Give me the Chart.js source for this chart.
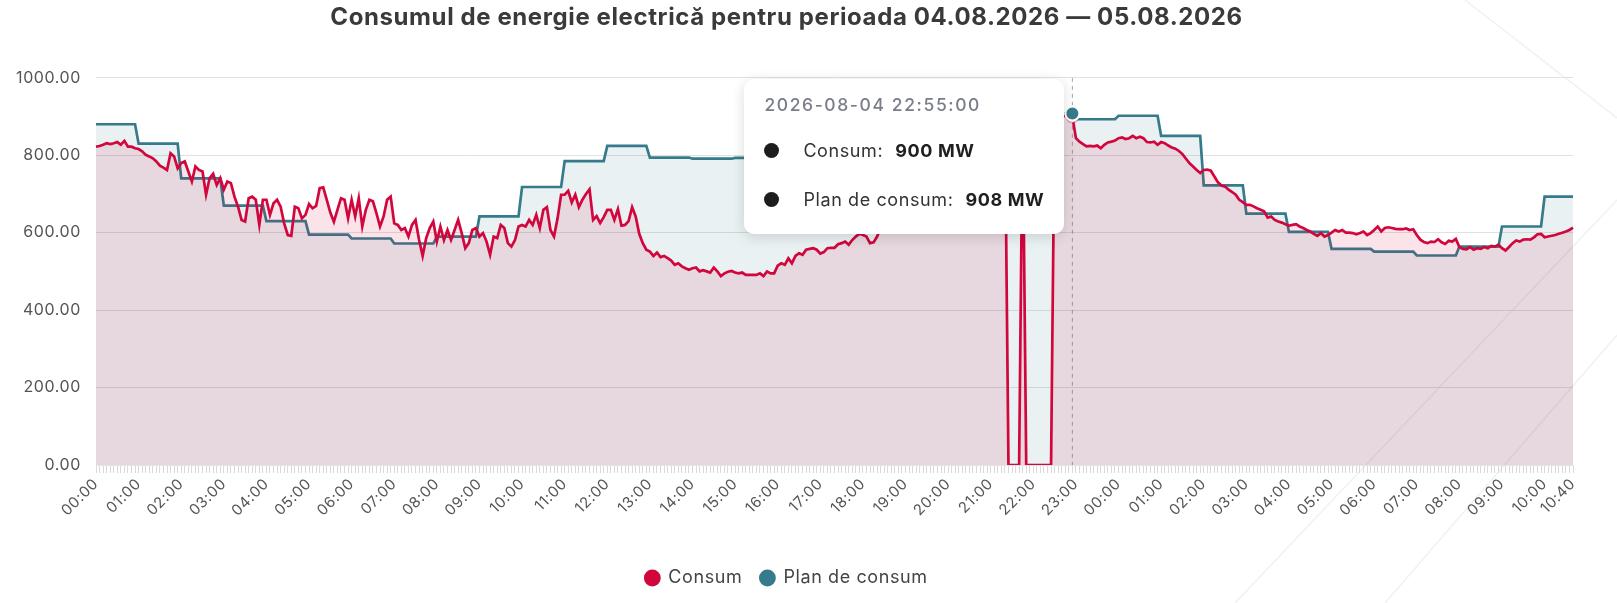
<!DOCTYPE html>
<html lang="ro">
<head>
<meta charset="utf-8">
<title>Consumul de energie electrică</title>
<script src="https://cdn.jsdelivr.net/npm/chart.js@4.4.1/dist/chart.umd.min.js"></script>
<style>
  html, body { margin: 0; padding: 0; overflow: hidden; background: #fff; }
  #wrap { position: relative; width: 1617px; height: 630px; }
  #deco { position: absolute; left: 0; top: 0; }
  #energy-chart { position: relative; }
  .tip { position: absolute; display: none; background: #fff; border-radius: 10px;
         box-shadow: 0 3px 14px rgba(0,0,0,.14); padding: 15px 20px 20px 20px;
         font-family: Inter, 'Noto Sans', sans-serif; white-space: nowrap; pointer-events: none; }
  .tip-title { color: #7b7e89; font-size: 17.5px; font-weight: 500; line-height: 22px; letter-spacing: 1.6px; }
  .tip-row { display: flex; align-items: center; height: 28px; margin-top: 21px; font-size: 18px;
             color: #333; letter-spacing: 0.6px; }
  .tip-dot { width: 15px; height: 15px; border-radius: 50%; background: #1d1d1d; margin-right: 24px; }
  .tip-row b { margin-left: 12px; color: #1f1f1f; font-weight: 700; }
</style>
</head>
<body>
<div id="wrap">
  <svg id="deco" width="1617" height="603">
    <g stroke="#f1f1f1" stroke-width="1.5" fill="none">
      <line x1="1465" y1="0" x2="1617" y2="118"/>
      <line x1="1617" y1="200" x2="1235" y2="603"/>
      <line x1="1617" y1="335" x2="1385" y2="603"/>
    </g>
  </svg>
  <canvas id="energy-chart"></canvas>
</div>
<script>
// consum la fiecare 5 minute, de la 04.08 00:00 pana la 05.08 10:40 (MW)
const consum = [
  822, 824, 827, 831, 829, 831, 834, 827, 837, 822, 822, 818,
  816, 810, 801, 797, 792, 784, 773, 768, 762, 805, 797, 766,
  780, 784, 758, 732, 771, 762, 758, 698, 741, 752, 723, 741,
  711, 732, 728, 693, 667, 633, 629, 689, 693, 685, 620, 685,
  685, 646, 676, 685, 667, 624, 594, 592, 667, 663, 637, 646,
  674, 663, 669, 715, 717, 685, 652, 628, 659, 689, 685, 637,
  685, 642, 689, 616, 659, 685, 681, 650, 616, 642, 685, 693,
  624, 620, 607, 612, 590, 620, 633, 581, 540, 586, 612, 629,
  577, 616, 581, 607, 581, 607, 633, 599, 560, 573, 607, 612,
  590, 599, 577, 543, 590, 586, 620, 612, 573, 564, 581, 616,
  620, 616, 633, 620, 646, 612, 659, 666, 607, 590, 637, 698,
  698, 708, 678, 698, 666, 685, 700, 712, 633, 643, 625, 640,
  659, 659, 633, 661, 618, 620, 630, 666, 642, 597, 573, 556,
  551, 540, 549, 537, 540, 534, 528, 517, 521, 513, 508, 504,
  508, 510, 500, 503, 500, 497, 510, 500, 488, 495, 499, 501,
  497, 495, 497, 491, 491, 491, 491, 495, 488, 500, 495, 495,
  515, 521, 517, 534, 521, 540, 547, 543, 556, 558, 560, 556,
  546, 550, 560, 561, 561, 570, 573, 577, 569, 581, 590, 597,
  594, 590, 573, 575, 590, 612, 625, 640, 652, 668, 680, 695,
  710, 722, 738, 750, 765, 778, 790, 800, 812, 825, 834, 845,
  852, 860, 868, 872, 880, 884, 890, 893, 898, 902, 905, 908,
  906, 910, 912, 909, 911, 0, 0, 0, 0, 912, 0, 0,
  0, 0, 0, 0, 0, 0, 905, 903, 902, 901, 900, 900,
  844, 835, 829, 823, 824, 823, 825, 818, 827, 833, 835, 838,
  844, 846, 842, 844, 850, 844, 848, 844, 834, 833, 835, 827,
  834, 831, 825, 820, 817, 811, 803, 791, 779, 771, 762, 754,
  762, 763, 760, 745, 730, 722, 719, 711, 705, 698, 685, 679,
  672, 672, 668, 663, 659, 655, 639, 642, 633, 629, 626, 622,
  618, 620, 622, 616, 612, 607, 603, 597, 592, 599, 590, 594,
  600, 607, 603, 607, 600, 600, 599, 596, 599, 603, 594, 599,
  607, 616, 603, 612, 614, 612, 610, 609, 609, 611, 607, 609,
  594, 582, 576, 573, 577, 576, 583, 575, 571, 579, 577, 584,
  563, 558, 557, 563, 556, 560, 558, 563, 560, 566, 564, 569,
  560, 554, 563, 573, 580, 577, 582, 583, 582, 588, 596, 597,
  588, 590, 592, 594, 597, 600, 603, 607, 613
];

// planul de consum pe ore: 04.08 00:00 ... 05.08 10:00 (MW)
const planHourly = [
  880, 830, 740, 670, 630, 595, 585, 572, 590, 642, 718, 785,
  824, 794, 791, 793, 800, 815, 850, 890, 920, 925, 908, 893,
  902, 850, 722, 649, 602, 558, 551, 541, 564, 616, 693
];

const seriesNames = ['Consum', 'Plan de consum'];
const titleText = 'Consumul de energie electrică pentru perioada 04.08.2026 — 05.08.2026';
const yTicks = [0, 200, 400, 600, 800, 1000];
const firstDay = 4;
const stepMinutes = 5;
const activeTime = '2026-08-04 22:55:00';

const pad = n => String(n).padStart(2, '0');
const timeStamps = consum.map((_, i) => {
  const m = i * stepMinutes;
  const day = firstDay + Math.floor(m / 1440);
  return '2026-08-' + pad(day) + ' ' + pad(Math.floor(m % 1440 / 60)) + ':' + pad(m % 60) + ':00';
});
const labels = timeStamps.map(t => t.slice(11, 16));
const plan = consum.map((_, i) => planHourly[Math.floor(i * stepMinutes / 60)]);
const activeIndex = timeStamps.indexOf(activeTime);

const red = '#d1063d';
const teal = '#357b8b';

Chart.defaults.font.family = "Inter, 'Noto Sans', sans-serif";

function renderTip(context) {
  const chart = context.chart, tooltip = context.tooltip;
  let el = document.getElementById('tip');
  if (!el) {
    el = document.createElement('div');
    el.id = 'tip';
    el.className = 'tip';
    chart.canvas.parentNode.appendChild(el);
  }
  if (tooltip.opacity === 0) { el.style.display = 'none'; return; }
  const pts = tooltip.dataPoints.slice().sort((a, b) => a.datasetIndex - b.datasetIndex);
  el.innerHTML = '<div class="tip-title">' + timeStamps[pts[0].dataIndex] + '</div>' +
    pts.map(p => '<div class="tip-row"><span class="tip-dot"></span>' + p.dataset.label +
      ':<b>' + Math.round(p.raw) + ' MW</b></div>').join('');
  el.style.display = 'block';
  el.style.left = (tooltip.caretX - el.offsetWidth - 8) + 'px';
  el.style.top = (chart.chartArea.top + 1) + 'px';
}

// spatiere mai larga a literelor, ca fontul original
// (canvas-ul isi pierde starea la redimensionare, deci se pune din nou)
const spacing = chart => { chart.ctx.letterSpacing = '0.6px'; };
const wideText = {
  id: 'wideText',
  afterInit: spacing,
  beforeUpdate: spacing,
  beforeLayout: spacing,
  beforeDraw: spacing
};

// linia punctata verticala + punctul planului deasupra liniei rosii
const hoverLine = {
  id: 'hoverLine',
  beforeDatasetsDraw(chart) {
    const act = chart.getActiveElements();
    if (!act.length) return;
    const x = act[0].element.x;
    const c = chart.ctx;
    c.save();
    c.setLineDash([4, 4]);
    c.strokeStyle = '#a8a8a8';
    c.lineWidth = 1;
    c.beginPath();
    c.moveTo(x, chart.chartArea.top);
    c.lineTo(x, chart.chartArea.bottom);
    c.stroke();
    c.restore();
  },
  afterDatasetsDraw(chart) {
    chart.getActiveElements().filter(a => a.datasetIndex === 1)
      .forEach(a => a.element.draw(chart.ctx, chart.chartArea));
  }
};

const chart = new Chart(document.getElementById('energy-chart'), {
  type: 'line',
  data: {
    labels: labels,
    datasets: [{
      label: seriesNames[0],
      data: consum,
      borderColor: red,
      backgroundColor: 'rgba(209,6,61,0.11)',
      fill: 'origin',
      borderWidth: 2.7,
      pointRadius: 0,
      pointHoverRadius: 6,
      pointHoverBackgroundColor: '#fff',
      pointHoverBorderColor: 'rgba(209,6,61,0.3)',
      pointHoverBorderWidth: 2
    }, {
      label: seriesNames[1],
      data: plan,
      borderColor: teal,
      backgroundColor: 'rgba(53,123,139,0.11)',
      fill: 'origin',
      borderWidth: 2.7,
      pointRadius: 0,
      pointHoverRadius: 7,
      pointHoverBackgroundColor: teal,
      pointHoverBorderColor: '#fff',
      pointHoverBorderWidth: 2
    }]
  },
  options: {
    responsive: true,
    maintainAspectRatio: false,
    animation: false,
    layout: { padding: { left: 0, right: 44, top: 0, bottom: 33 } },
    interaction: { mode: 'index', intersect: false },
    scales: {
      x: {
        grid: { drawOnChartArea: false, drawTicks: true, tickLength: 8, color: '#d9d9d9' },
        border: { color: '#e3e3e3' },
        ticks: {
          autoSkip: false, maxRotation: 45, minRotation: 45, padding: 2,
          color: '#555', font: { size: 15 },
          callback: (v, i) => (labels[i].endsWith(':00') || i === labels.length - 1) ? labels[i] : ''
        },
        afterFit: scale => { scale.height = 86; }
      },
      y: {
        min: yTicks[0],
        max: yTicks[yTicks.length - 1],
        afterBuildTicks: scale => { scale.ticks = yTicks.map(v => ({ value: v })); },
        ticks: { padding: 15, color: '#555', font: { size: 16 }, callback: v => v.toFixed(2) },
        grid: { color: '#e1e1e1', drawTicks: false },
        border: { display: false },
        afterFit: scale => { scale.width = 96; }
      }
    },
    plugins: {
      title: {
        display: true,
        text: titleText,
        color: '#3a3a3a',
        font: { size: 24, weight: 'bold' },
        padding: { top: 3, bottom: 46 }
      },
      legend: {
        position: 'bottom',
        labels: {
          usePointStyle: true, pointStyle: 'circle', boxWidth: 14, boxHeight: 10,
          padding: 18, color: '#444', font: { size: 18 },
          generateLabels: ch => Chart.defaults.plugins.legend.labels.generateLabels(ch)
            .map(l => Object.assign(l, { fillStyle: l.strokeStyle }))
        }
      },
      tooltip: { enabled: false, external: renderTip }
    }
  },
  plugins: [wideText, hoverLine]
});

const active = [0, 1].map(d => ({ datasetIndex: d, index: activeIndex }));
chart.setActiveElements(active);
const hovered = chart.getDatasetMeta(1).data[activeIndex];
chart.tooltip.setActiveElements(active, { x: hovered.x, y: hovered.y });
chart.update();
</script>
</body>
</html>
